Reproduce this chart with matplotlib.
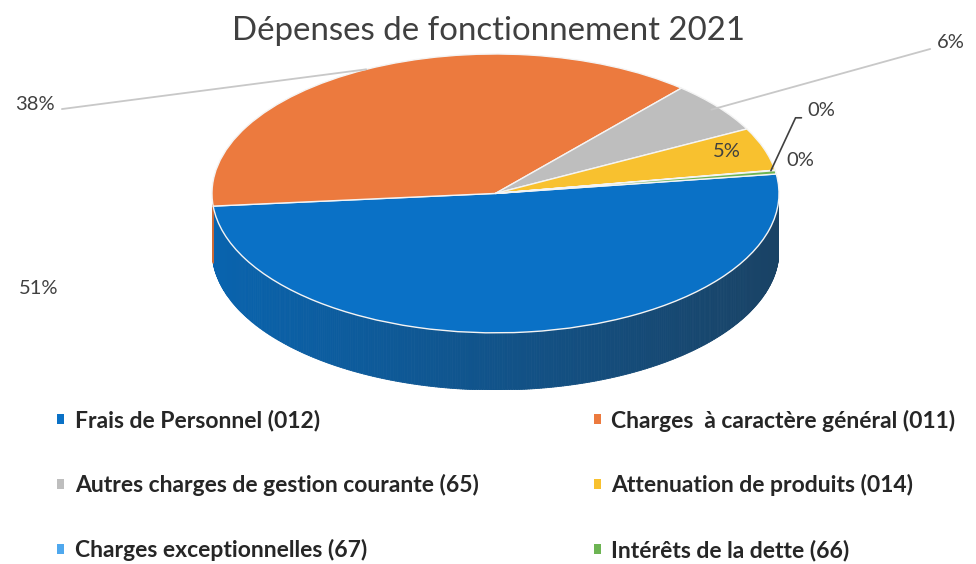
import numpy as np
import matplotlib
matplotlib.use("Agg")
import matplotlib.pyplot as plt
from matplotlib.collections import PolyCollection
from matplotlib.colors import to_rgb
from matplotlib.font_manager import FontProperties

# ---------------- data ----------------
title = "Dépenses de fonctionnement 2021"
categories = ["Frais de Personnel (012)",
              "Charges  à caractère général (011)",
              "Autres charges de gestion courante (65)",
              "Attenuation de produits (014)",
              "Charges exceptionnelles (67)",
              "Intérêts de la dette (66)"]
values = [51.0, 38.0, 6.0, 5.0, 0.05, 0.4]
pct_labels = ["51%", "38%", "6%", "5%", "0%", "0%"]
colors = ["#0A71C6", "#EC7A3E", "#BEBEBE", "#F8C12F", "#4FA8EE", "#6DB453"]

# ---------------- figure ----------------
W, H = 976, 564
fig = plt.figure(figsize=(W / 100, H / 100), dpi=100)
fig.patch.set_facecolor("white")

depth = 0.41          # thickness of the 3D side (in radius units)
start = 8.0           # start angle of first slice

# pie axes (pixel box: x 212..779, y 54..390)
px0, px1, py0, py1 = 212, 779, 54, 390
ax = fig.add_axes([px0 / W, 1 - py1 / H, (px1 - px0) / W, (py1 - py0) / H])

vals = np.array(values, dtype=float)
fracs = vals / vals.sum()
cum = np.concatenate([[0], np.cumsum(fracs)])
ang_start = start - 360 * cum[:-1]
ang_end = start - 360 * cum[1:]

# side of the 3D pie
polys, pcols = [], []
dark = np.array([0.12, 0.20, 0.27])
for i in range(len(vals)):
    base = np.array(to_rgb(colors[i]))
    a0, a1 = ang_end[i], ang_start[i]
    n = max(2, int((a1 - a0) / 0.5) + 1)
    phis = np.linspace(a0, a1, n)
    for p1, p2 in zip(phis[:-1], phis[1:]):
        mid = np.radians((p1 + p2) / 2)
        if np.sin(mid) >= 0.02:
            continue
        r1, r2 = np.radians(p1), np.radians(p2)
        t = (np.cos(mid) + 1) / 2
        left = base * 0.88
        right = 0.25 * base + 0.75 * dark
        c = (1 - t) * left + t * right
        polys.append([(np.cos(r1), np.sin(r1)), (np.cos(r2), np.sin(r2)),
                      (np.cos(r2), np.sin(r2) - depth), (np.cos(r1), np.sin(r1) - depth)])
        pcols.append(tuple(np.clip(c, 0, 1)))
pc = PolyCollection(polys, facecolors=pcols, edgecolors=pcols, linewidths=0.6, zorder=1)
ax.add_collection(pc)

wedges, _ = ax.pie(vals, colors=colors, startangle=start, counterclock=False,
                   radius=1, wedgeprops=dict(edgecolor="#f4f4f4", linewidth=1.0, zorder=2),
                   frame=False)
for w in wedges:
    w.set_zorder(2)
ax.set_aspect("auto")
ax.set_xlim(-1, 1)
ax.set_ylim(-1 - depth, 1)
ax.axis("off")

# overlay axes in pixel coordinates for text
ov = fig.add_axes([0, 0, 1, 1], zorder=5)
ov.set_xlim(0, W)
ov.set_ylim(H, 0)
ov.axis("off")
ov.patch.set_alpha(0)

tcol = "#404040"
ov.text(489, 31, title, ha="center", va="center", fontsize=23.8,
        family="Lato", color=tcol)

mid = np.radians((ang_start + ang_end) / 2)
lab_font = dict(family="Lato", fontsize=14.5, color=tcol)

# 51% (no leader)
ov.text(58, 289, pct_labels[0], ha="right", va="center", **lab_font)
# 38% with leader
ax.annotate(pct_labels[1], xy=(np.cos(mid[1]), np.sin(mid[1])), xycoords="data",
            xytext=(55, 104), textcoords=ov.transData, ha="right", va="center",
            annotation_clip=False, zorder=6,
            arrowprops=dict(arrowstyle="-", color="#c8c8c8", lw=1.3,
                            shrinkA=3, shrinkB=0, relpos=(1.0, 0.15)), **lab_font)
# 6% with leader
ax.annotate(pct_labels[2], xy=(np.cos(mid[2]) * 0.97, np.sin(mid[2]) * 0.97), xycoords="data",
            xytext=(937, 42), textcoords=ov.transData, ha="left", va="center",
            annotation_clip=False, zorder=6,
            arrowprops=dict(arrowstyle="-", color="#c8c8c8", lw=1.3,
                            shrinkA=3, shrinkB=0, relpos=(0.0, 0.2)), **lab_font)
# 5% inside
ax.text(np.cos(mid[3]) * 0.86, np.sin(mid[3]) * 0.95, pct_labels[3], ha="center",
        va="center", zorder=6, **lab_font)
# 0% (exceptionnelles) with angled leader
ax.annotate(pct_labels[4], xy=(np.cos(mid[4]) * 0.985, np.sin(mid[4]) * 0.985), xycoords="data",
            xytext=(807, 111), textcoords=ov.transData, ha="left", va="center",
            annotation_clip=False, zorder=6,
            arrowprops=dict(arrowstyle="-", color="#404040", lw=1.2,
                            shrinkA=2, shrinkB=0, relpos=(0.0, 0.1),
                            connectionstyle="angle,angleA=180,angleB=65,rad=0"),
            **lab_font)
# 0% (intérêts)
ov.text(786, 161, pct_labels[5], ha="left", va="center", **lab_font)

# legend (row-wise order)
order = [0, 2, 4, 1, 3, 5]
leg = fig.legend([wedges[i] for i in order], [categories[i] for i in order],
                 ncol=2, loc="upper left", bbox_to_anchor=(46 / W, 1 - 398 / H),
                 frameon=False, borderpad=0, handlelength=0.3, handleheight=0.3,
                 handletextpad=0.45, labelspacing=1.87, columnspacing=5.05,
                 prop=FontProperties(family="Lato", weight="bold", size=16.5))
for t in leg.get_texts():
    t.set_color("#262626")
for h in leg.legend_handles:
    h.set_edgecolor("none")

fig.savefig("out.png", dpi=100, facecolor="white")
